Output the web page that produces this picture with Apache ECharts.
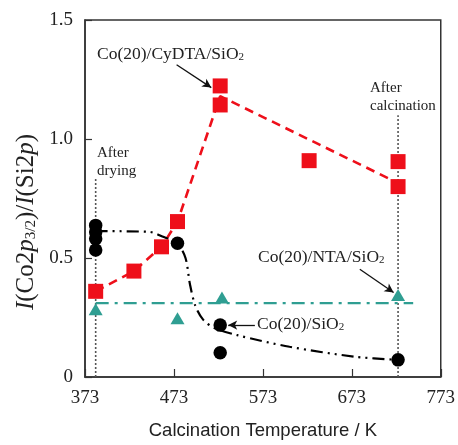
<!DOCTYPE html>
<html><head><meta charset="utf-8">
<script src="https://cdn.jsdelivr.net/npm/echarts@6/dist/echarts.min.js"></script>
<style>html,body{margin:0;padding:0;background:#fff}#c{width:458px;height:445px}</style>
</head><body><div id="c"></div>
<script>
const xTicks = [373, 473, 573, 673, 773];
const yTicks = [0, 0.5, 1.0, 1.5];
const cydtaPts = [[385,0.36],[428,0.445],[459,0.547],[477,0.653],[525,1.223],[525,1.143],[625,0.909],[725,0.905],[725,0.80]];
const cydtaLine = [[385,0.36],[428,0.445],[459,0.547],[477,0.653],[525,1.18],[725,0.815]];
const sio2Pts = [[385,0.637],[385,0.609],[385,0.581],[385,0.534],[477,0.562],[525,0.218],[525,0.102],[725,0.072]];
const sio2Curve = [[385,0.613],[445,0.61],[460,0.59],[477,0.56],[486,0.50],[491,0.39],[497,0.30],[506,0.24],[519,0.205],[544,0.176],[603,0.127],[677,0.085],[725,0.072]];
const ntaPts = [[385,0.285],[477,0.247],[527,0.334],[725,0.345]];
const ntaLine = [[385,0.31],[742,0.31]];
const dryLine = [[385,0],[385,0.836]];
const calcLine = [[725,0],[725,1.1]];
const arrowCydta = [[476,1.312],[515,1.216]];
const arrowNta = [[682,0.453],[720,0.355]];
const arrowSio2 = [[564,0.218],[534,0.218]];

const RED = '#ee0f1a', TEAL = '#2f9e92', BLK = '#000';
const SERIF = '"Liberation Serif","Times New Roman",serif';
const chart = echarts.init(document.getElementById('c'), null, {renderer:'canvas'});

function arrowML(a){
  return {
    silent:true, symbol:['none','arrow'], symbolSize:[7,9],
    lineStyle:{color:'#111', width:1.3, type:'solid'},
    label:{show:false},
    data:[[{coord:a[0]},{coord:a[1]}]]
  };
}
function txt(x, y, t, size){
  return {type:'text', left:x, top:y, z:50, style:{
    text:t, fontFamily:SERIF, fontSize:size, fill:'#222',
    rich:{s:{fontFamily:SERIF, fontSize:Math.round(size*0.62), fill:'#222', verticalAlign:'bottom', padding:[6,0,0,0]}}
  }};
}

chart.setOption({
  animation:false,
  backgroundColor:'#fff',
  grid:{left:85, right:13, top:20, bottom:67, show:true, borderColor:'#333', borderWidth:1.5, backgroundColor:'transparent'},
  xAxis:{
    type:'value', min:373, max:773,
    name:'Calcination Temperature / K', nameLocation:'middle', nameGap:44,
    nameTextStyle:{fontFamily:'"Liberation Sans",Arial,sans-serif', fontSize:18.5, color:'#222'},
    axisLine:{show:true, lineStyle:{color:'#333', width:1.5}},
    axisTick:{show:true, inside:true, length:8, customValues:xTicks, lineStyle:{color:'#333', width:1.2}},
    axisLabel:{customValues:xTicks, fontFamily:SERIF, fontSize:19, color:'#222', margin:12},
    splitLine:{show:false}
  },
  yAxis:{
    type:'value', min:0, max:1.5, interval:0.5,
    axisLine:{show:true, lineStyle:{color:'#333', width:1.5}},
    axisTick:{show:true, inside:true, length:7, lineStyle:{color:'#333', width:1.2}},
    axisLabel:{fontFamily:SERIF, fontSize:19, color:'#222', margin:12,
      formatter:function(v){ return yTicks.indexOf(v)>=0 ? (v===0 ? '0' : v.toFixed(1)) : ''; }},
    splitLine:{show:false}
  },
  series:[
    {type:'line', data:dryLine, symbol:'none', silent:true, z:1, lineStyle:{color:'#555', width:1.6, type:[2,2]}},
    {type:'line', data:calcLine, symbol:'none', silent:true, z:1, lineStyle:{color:'#555', width:1.6, type:[2,2]}},
    {type:'line', data:ntaLine, symbol:'none', silent:true, z:2, lineStyle:{color:TEAL, width:2.2, type:[13,6,3,6]}},
    {type:'line', data:cydtaLine, symbol:'none', silent:true, z:2, lineStyle:{color:RED, width:2.6, type:[9,6]}},
    {type:'line', data:sio2Curve, symbol:'none', smooth:0.3, silent:true, z:2, lineStyle:{color:BLK, width:2.2, type:[12,5,2,5,2,5]}},
    {type:'scatter', data:ntaPts, symbol:'triangle', symbolSize:[14,12], z:5, itemStyle:{color:TEAL, opacity:1}},
    {type:'scatter', data:cydtaPts, symbol:'rect', symbolSize:15, z:5, itemStyle:{color:RED, opacity:1}},
    {type:'scatter', data:sio2Pts, symbol:'circle', symbolSize:13.5, z:6, itemStyle:{color:BLK, opacity:1}},
    {type:'line', data:[], symbol:'none', markLine:arrowML(arrowCydta)},
    {type:'line', data:[], symbol:'none', markLine:arrowML(arrowNta)},
    {type:'line', data:[], symbol:'none', markLine:arrowML(arrowSio2)}
  ],
  graphic:[
    {type:'text', x:26, y:222, rotation:Math.PI/2, z:50, style:{
      text:'{i|I}(Co2{i|p}{s|3/2})/{i|I}(Si2{i|p})', align:'center', verticalAlign:'middle',
      fontFamily:SERIF, fontSize:25, fill:'#222',
      rich:{i:{fontFamily:SERIF, fontSize:25, fontStyle:'italic', fill:'#222'},
            s:{fontFamily:SERIF, fontSize:15, fill:'#222', verticalAlign:'bottom', padding:[11,0,0,0]}}}},
    txt(97, 45, 'Co(20)/CyDTA/SiO{s|2}', 17.5),
    txt(370, 81, 'After', 15),
    txt(370, 99, 'calcination', 15),
    txt(97, 146, 'After', 15),
    txt(97, 164, 'drying', 15),
    txt(258, 248, 'Co(20)/NTA/SiO{s|2}', 17.5),
    txt(257, 315, 'Co(20)/SiO{s|2}', 17.5)
  ]
});
</script></body></html>
